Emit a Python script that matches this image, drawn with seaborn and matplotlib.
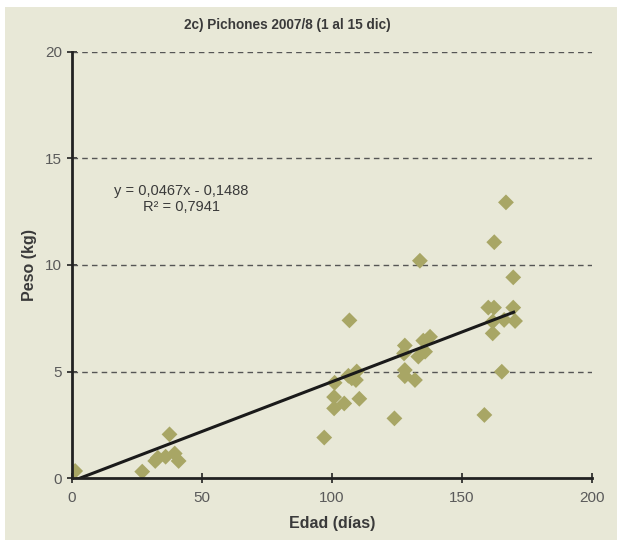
import matplotlib
matplotlib.use("Agg")
import matplotlib.pyplot as plt
import seaborn as sns
import pandas as pd
import numpy as np
from matplotlib.patches import Rectangle

# --- data ---
edad = [1.2, 27, 32, 33, 36, 37.5, 39.5, 41,
        97, 100.8, 100.8, 101, 104.7, 106.3, 106.7, 107.6, 109.2, 109.5, 110.5,
        124, 127.7, 128, 128, 128, 131.9, 133.2, 133.8, 135.1, 135.8, 137.7,
        158.6, 160.1, 161.8, 161.8, 162.3, 162.4, 165.3, 166.2, 166.9,
        169.7, 169.7, 170.4]
peso = [0.33, 0.3, 0.8, 0.95, 1.0, 2.05, 1.15, 0.8,
        1.9, 3.8, 3.27, 4.47, 3.5, 4.8, 7.4, 4.68, 4.6, 5.0, 3.72,
        2.8, 5.85, 6.22, 5.07, 4.78, 4.6, 5.7, 10.2, 6.45, 5.93, 6.63,
        2.96, 8.0, 7.34, 6.79, 8.0, 11.07, 4.99, 7.42, 12.94,
        9.42, 8.0, 7.37]
pendiente = 0.0467
intercepto = -0.1488
r2 = 0.7941

titulo = "2c) Pichones 2007/8 (1 al 15 dic)"
x_ticks = [0, 50, 100, 150, 200]
y_ticks = [0, 5, 10, 15, 20]

BG = "#E8E8D7"
PUNTO = "#A8A665"
TEXTO = "#3a3a3a"

sns.set_theme(style="white")
plt.rcParams["font.family"] = ["Liberation Sans Narrow", "Liberation Sans", "DejaVu Sans"]

df = pd.DataFrame({"edad": edad, "peso": peso})

fig = plt.figure(figsize=(6.22, 5.47), dpi=100, facecolor="white")
fig.patches.append(Rectangle((0.008, 0.012), 0.984, 0.976, transform=fig.transFigure,
                             facecolor=BG, edgecolor="none", zorder=-10))
ax = fig.add_axes([0.1158, 0.1261, 0.836, 0.7789])
ax.set_facecolor(BG)

# dashed horizontal gridlines
for yv in y_ticks[1:]:
    ax.axhline(yv, color="#555555", linestyle=(0, (4, 3)), linewidth=1.0, zorder=1)

sns.scatterplot(data=df, x="edad", y="peso", marker="D", s=65, color=PUNTO,
                edgecolor="none", ax=ax, zorder=3)

# linear trendline over the data range
xl = np.array([min(edad), max(edad)])
ax.plot(xl, pendiente * xl + intercepto, color="#1a1a1a", linewidth=2.2, zorder=4,
        solid_capstyle="butt")

ax.set_xlim(0, 200)
ax.set_ylim(0, 20)
ax.set_xticks(x_ticks)
ax.set_yticks(y_ticks)
ax.tick_params(axis="both", direction="inout", length=7, width=1.2, color="#222222",
               labelsize=11, labelcolor="#5a5a5a", bottom=True, left=True)
ax.tick_params(axis="x", pad=6)
for side in ["top", "right"]:
    ax.spines[side].set_visible(False)
for side in ["left", "bottom"]:
    ax.spines[side].set_color("#222222")
    ax.spines[side].set_linewidth(2.0)
    ax.spines[side].set_zorder(5)

ax.set_xlabel("Edad (días)", fontsize=11.5, fontweight="bold", color=TEXTO, labelpad=8)
ax.set_ylabel("Peso (kg)", fontsize=11.5, fontweight="bold", color=TEXTO, labelpad=6)
fig.text(0.462, 0.955, titulo, ha="center", va="center", fontsize=9.8,
         fontweight="bold", color=TEXTO)

eq = f"y = {pendiente:.4f}x - {abs(intercepto):.4f}".replace(".", ",")
r2txt = f"R² = {r2:.4f}".replace(".", ",")
ax.text(42, 13.1, eq + "\n" + r2txt, ha="center", va="center", fontsize=10.5,
        color=TEXTO, linespacing=1.1, multialignment="center")

fig.savefig("out.png", dpi=100, facecolor=fig.get_facecolor())
